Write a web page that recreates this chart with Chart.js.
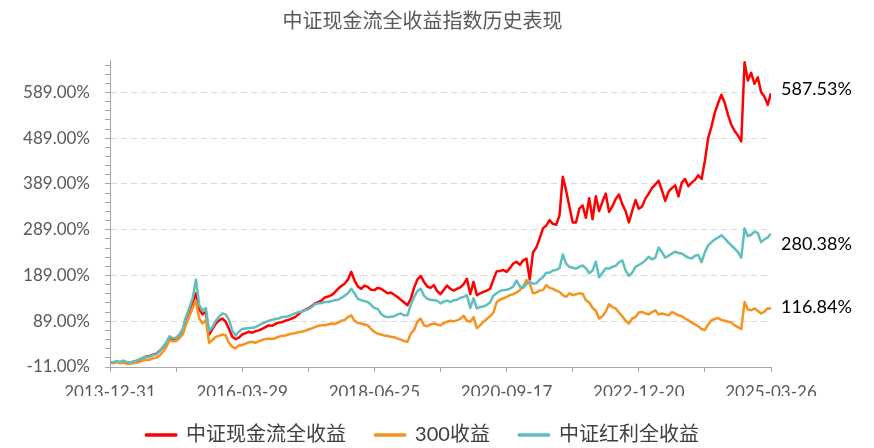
<!DOCTYPE html>
<html>
<head>
<meta charset="utf-8">
<script src="https://cdn.jsdelivr.net/npm/chart.js@4.4.1/dist/chart.umd.min.js"></script>
<style>
html,body{margin:0;padding:0;background:#fff;}
#wrap{width:874px;height:448px;position:relative;}
</style>
</head>
<body>
<div id="wrap"><canvas id="c"></canvas></div>
<script>
const titleText = '中证现金流全收益指数历史表现';
const seriesNames = ['中证现金流全收益', '300收益', '中证红利全收益'];
const xTickLabels = ['2013-12-31', '2016-03-29', '2018-06-25', '2020-09-17', '2022-12-20', '2025-03-26'];
const yTickValues = [-11, 89, 189, 289, 389, 489, 589];
const endLabels = ['587.53%', '116.84%', '280.38%'];

const cashFlow = [
  0,-2,1,-1,2,-1,-2,0,2,5,
  9,12,13,16,18,24,32,40,54,50,
  52,58,70,96,112,130,150,115,104,110,
  60,72,84,91,95,88,72,55,50,53,
  60,63,66,64,67,69,72,76,80,79,
  83,86,87,90,92,95,98,104,110,114,
  117,122,128,131,134,141,143,146,152,160,
  166,171,180,197,178,165,160,167,164,158,
  157,162,160,155,150,152,147,142,136,130,
  124,138,162,180,188,175,165,162,168,155,
  148,158,167,160,156,160,163,170,182,148,
  175,146,150,153,156,160,180,198,199,201,
  197,205,215,219,212,222,226,180,240,250,
  270,292,298,310,302,300,320,405,375,340,
  305,305,335,342,315,358,312,362,330,350,
  368,328,340,356,366,345,330,305,330,354,
  335,340,357,368,380,388,396,375,352,372,
  380,386,362,392,400,384,392,398,408,400,
  440,490,515,545,566,584,566,540,518,505,
  495,482,655,615,632,608,622,590,580,562,
  587.53
];
const csi300 = [
  0,-3,0,-3,-1,-4,-4,-3,-2,0,
  3,5,5,8,9,14,22,32,48,45,
  46,52,60,82,100,118,133,95,84,92,
  42,48,55,57,60,58,42,33,30,36,
  37,40,43,44,42,45,48,50,51,50,
  52,55,57,58,60,62,63,65,66,68,
  71,73,76,79,80,80,82,84,83,86,
  90,92,98,102,90,85,84,82,80,72,
  66,62,60,58,57,55,54,51,49,46,
  44,62,70,88,95,80,78,82,84,82,
  80,85,88,90,89,91,94,101,90,88,
  98,74,80,88,94,100,108,131,136,139,
  142,146,148,152,157,165,179,171,150,152,
  156,157,168,162,160,156,153,146,142,150,
  146,148,150,149,135,130,118,112,95,100,
  110,126,120,117,108,100,90,84,95,98,
  108,109,106,104,109,113,104,106,104,102,
  109,106,102,100,95,91,86,82,78,72,
  70,82,91,94,96,92,90,88,86,80,
  76,72,131,115,113,117,112,106,110,117,
  116.84
];
const dividend = [
  0,-1,2,0,3,0,-1,1,3,6,
  9,11,12,15,17,23,32,42,56,52,
  53,60,72,98,118,139,180,125,112,118,
  68,76,90,99,106,104,92,68,58,66,
  72,73,74,75,76,80,84,87,90,92,
  94,95,98,99,100,103,106,109,110,113,
  115,120,126,128,129,131,131,133,135,136,
  140,145,150,160,150,138,135,133,131,125,
  118,116,105,100,98,99,100,104,106,102,
  102,125,142,155,160,145,138,136,135,134,
  128,132,134,131,135,136,140,142,146,118,
  139,117,120,121,125,130,145,150,155,157,
  158,160,165,178,165,162,170,175,171,172,
  180,185,195,195,200,201,205,235,215,208,
  206,204,208,211,205,194,200,219,185,195,
  205,204,208,210,218,222,200,188,195,208,
  212,216,222,230,224,228,250,240,228,232,
  237,241,238,237,232,228,226,232,234,218,
  240,255,262,268,272,277,270,262,255,248,
  240,228,292,275,278,285,282,262,268,272,
  280.38
];

const seriesColors = ['#FF0000', '#F7921E', '#5FBFBF'];
const FONT = "Lato, 'Noto Sans CJK SC', sans-serif";

const lastIndex = cashFlow.length - 1;
const labelStep = lastIndex / (xTickLabels.length - 1);
const yMinorStep = (yTickValues[1] - yTickValues[0]) / 5;
const yMax = 660;
const yMinorValues = [];
for (let v = yTickValues[0]; v <= yMax; v += yMinorStep) yMinorValues.push(v);

const toPoints = arr => arr.map((v, i) => ({x: i, y: v}));

const endLabelPlugin = {
  id: 'endLabels',
  afterDatasetsDraw(chart, args, opts) {
    const ctx = chart.ctx;
    ctx.save();
    ctx.font = '18px ' + FONT;
    ctx.fillStyle = '#000000';
    ctx.textBaseline = 'middle';
    ctx.textAlign = 'left';
    chart.data.datasets.forEach((ds, i) => {
      const meta = chart.getDatasetMeta(i);
      const pt = meta.data[meta.data.length - 1];
      ctx.fillText(endLabels[i], pt.x + 10, pt.y + opts.shift[i]);
    });
    ctx.restore();
  }
};

new Chart(document.getElementById('c'), {
  type: 'line',
  data: {
    datasets: [
      {label: seriesNames[0], data: toPoints(cashFlow), borderColor: seriesColors[0], backgroundColor: seriesColors[0], order: 2},
      {label: seriesNames[1], data: toPoints(csi300), borderColor: seriesColors[1], backgroundColor: seriesColors[1], order: 1},
      {label: seriesNames[2], data: toPoints(dividend), borderColor: seriesColors[2], backgroundColor: seriesColors[2], order: 0}
    ]
  },
  options: {
    responsive: true,
    maintainAspectRatio: false,
    animation: false,
    events: [],
    layout: {padding: {left: 0, right: 29, top: 0, bottom: -7}},
    elements: {
      line: {borderWidth: 2.5, tension: 0, borderJoinStyle: 'round'},
      point: {radius: 0}
    },
    plugins: {
      title: {
        display: true, text: titleText, color: '#595959',
        font: {family: FONT, size: 20, weight: 'normal'},
        padding: {top: 10, bottom: 26}
      },
      legend: {
        display: true, position: 'bottom',
        labels: {
          color: '#404040', font: {family: FONT, size: 20},
          boxWidth: 30, boxHeight: 1, padding: 29,
          sort: (a, b) => a.datasetIndex - b.datasetIndex
        }
      },
      tooltip: {enabled: false},
      endLabels: {shift: [-4, -1, 11]}
    },
    scales: {
      x: {
        type: 'linear', min: 0, max: lastIndex,
        afterFit: s => { s.height = 29; },
        ticks: {
          stepSize: labelStep / 2, autoSkip: false, maxRotation: 0, minRotation: 0,
          padding: 10, color: '#595959', font: {family: FONT, size: 17},
          callback: v => (v % labelStep === 0 ? xTickLabels[v / labelStep] : '')
        },
        grid: {drawOnChartArea: false, drawTicks: true, tickLength: 5, color: '#A6A6A6', tickColor: '#A6A6A6'},
        border: {display: true, color: '#A6A6A6', width: 1}
      },
      y: {
        type: 'linear', position: 'left', min: yTickValues[0], max: yMax,
        afterFit: s => { s.width = 110; },
        afterBuildTicks: s => { s.ticks = yMinorValues.map(v => ({value: v})); },
        ticks: {
          autoSkip: false, padding: 15, color: '#595959', font: {family: FONT, size: 17},
          callback: v => (yTickValues.includes(v) ? v.toFixed(2) + '%' : '')
        },
        grid: {
          drawTicks: true, tickLength: 5, tickColor: '#A6A6A6', lineWidth: 1,
          color: c => (c.tick && yTickValues.includes(c.tick.value) && c.tick.value !== yTickValues[0]) ? '#D9D9D9' : 'rgba(0,0,0,0)'
        },
        border: {display: true, color: '#A6A6A6', width: 1, dash: [6, 4]}
      },
      yLabelSpace: {
        type: 'linear', position: 'right', display: true,
        afterFit: s => { s.width = 74; },
        ticks: {display: false},
        grid: {display: false, drawTicks: false},
        border: {display: false}
      }
    }
  },
  plugins: [endLabelPlugin]
});
</script>
</body>
</html>
